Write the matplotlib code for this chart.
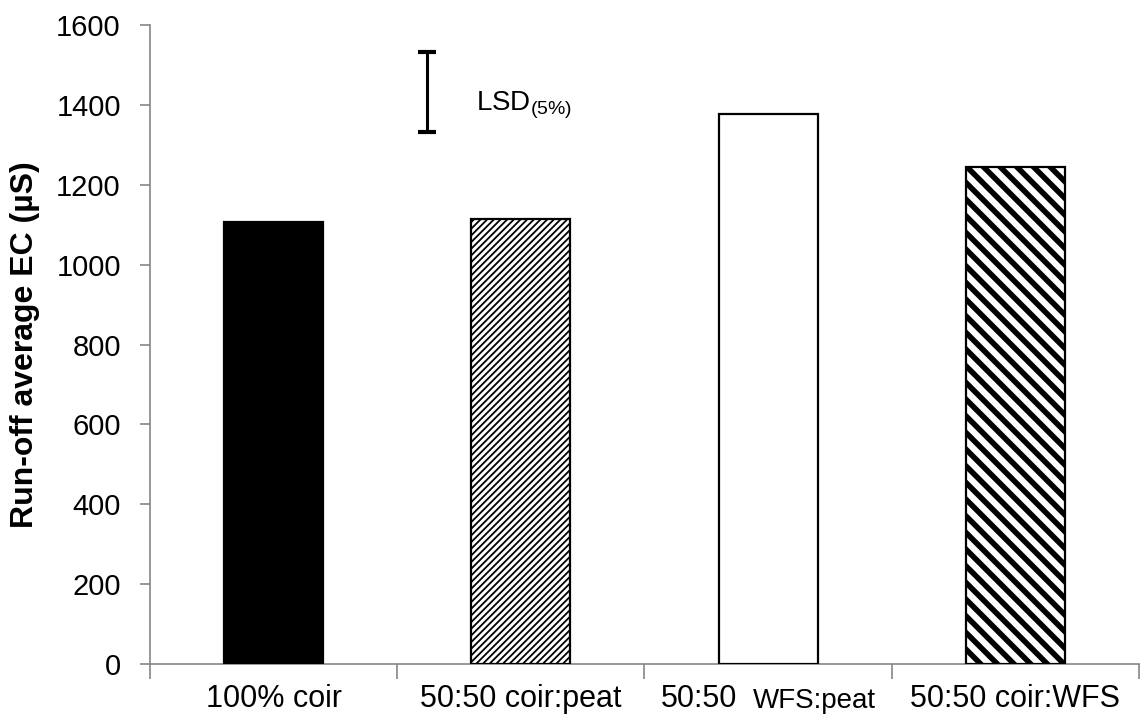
import matplotlib
matplotlib.use("Agg")
import matplotlib.pyplot as plt

plt.rcParams['font.family'] = ['Liberation Sans', 'DejaVu Sans']
plt.rcParams['mathtext.default'] = 'regular'

categories = ["100% coir", "50:50 coir:peat", "50:50 WFS:peat", "50:50 coir:WFS"]
values = [1107, 1114, 1378, 1245]
lsd_low, lsd_high = 1332, 1532
yticks = [0, 200, 400, 600, 800, 1000, 1200, 1400, 1600]

fig = plt.figure(figsize=(11.4, 7.23), dpi=100)
ax = fig.add_axes([0.1316, 0.0816, 0.8675, 0.8838])

x = list(range(len(categories)))
faces = ['black', 'white', 'white', 'white']
hatches = [None, '/////', None, '\\\\']
hcolors = ['black', '#2a2a2a', 'black', 'black']
hlw = [1, 1.3, 1, 4.0]
bars = ax.bar(x, values, width=0.4, color=faces, edgecolor='black', linewidth=1.6, zorder=3)
for b, h, hc, lw in zip(bars, hatches, hcolors, hlw):
    if h:
        b.set_hatch(h)
        if hasattr(b, 'set_hatch_linewidth'):
            b.set_hatch_linewidth(lw)
        b._hatch_color = matplotlib.colors.to_rgba(hc)
        b.set_edgecolor('black')

# LSD bar
ax.errorbar([0.62], [(lsd_low + lsd_high) / 2], yerr=[[(lsd_high - lsd_low) / 2]],
            fmt='none', ecolor='black', elinewidth=2.2, capsize=6.5, capthick=3, zorder=4)
ax.text(0.82, 1400, r'LSD$_{(5\%)}$', fontsize=20, va='center', ha='left')

ax.set_xlim(-0.5, 3.5)
ax.set_ylim(0, 1600)
ax.set_yticks(yticks)
ax.set_yticklabels([str(v) for v in yticks], fontsize=21)
ax.tick_params(axis='y', direction='out', length=7, width=1.2, color='#868686', pad=14)
ax.set_xticks([-0.5, 0.5, 1.5, 2.5, 3.5])
ax.set_xticklabels([])
ax.tick_params(axis='x', direction='out', length=11, width=1.2, color='#868686')

for s in ['top', 'right']:
    ax.spines[s].set_visible(False)
for s in ['left', 'bottom']:
    ax.spines[s].set_color('#868686')
    ax.spines[s].set_linewidth(1.2)

trans = ax.get_xaxis_transform()
ylab = -0.067
for i, lab in enumerate(categories):
    if i == 2:
        t1 = ax.text(i - 0.125, ylab, "50:50", fontsize=22, ha='right', va='baseline', transform=trans)
        ax.annotate("WFS:peat", xy=(1, ylab), xycoords=(t1, trans), xytext=(11, -1),
                    textcoords='offset points', fontsize=20, ha='left', va='baseline')
    else:
        ax.text(i, ylab, lab, fontsize=22, ha='center', va='baseline', transform=trans)

ax.set_ylabel("Run-off average EC (µS)", fontsize=23, fontweight='bold', labelpad=12)

fig.savefig("out.png", dpi=100)
